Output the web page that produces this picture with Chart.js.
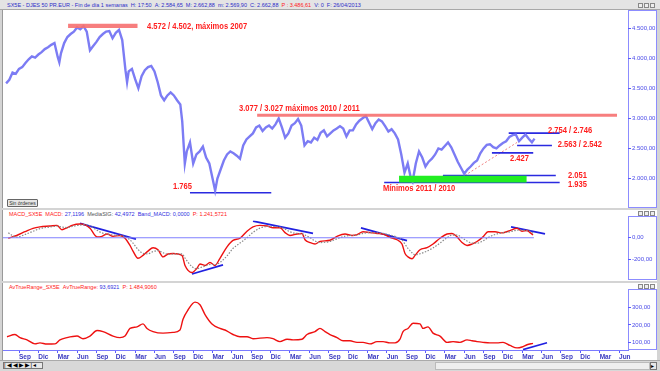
<!DOCTYPE html>
<html><head><meta charset="utf-8">
<script src="https://cdn.jsdelivr.net/npm/chart.js@4"></script>
<style>
body{margin:0;width:660px;height:371px;overflow:hidden;background:#d4d4d4;font-family:"Liberation Sans",Arial,sans-serif;position:relative}
div,canvas{position:absolute;box-sizing:border-box}
.hdr{font-size:5.5px;white-space:nowrap;line-height:6px}
.box{border:1px solid #8c8cff;background:#fff}
.btn{width:5px;height:5px;border:1px solid #888;background:#eee}
.r{color:#ff2020}.b{color:#3030e0}.g{color:#555}
</style></head><body>
<div style="left:0;top:0;width:660px;height:10px;background:#e4e4e4;border-bottom:1px solid #a8a8a8"></div>
<div class="hdr" style="left:7px;top:2px;color:#2d2dc8">SX5E - DJES 50 PR.EUR - Fin de día 1 semanas &nbsp;H: 17:50 &nbsp;A: 2.584,65 &nbsp;M: 2.662,88 &nbsp;m: 2.569,90 &nbsp;C: 2.662,88 &nbsp;<span class="r">P : 3.486,61</span> &nbsp;V: 0 &nbsp;F: 26/04/2013</div>
<div class="btn" style="left:638px;top:3px"></div><div class="btn" style="left:644px;top:3px"></div><div class="btn" style="left:650px;top:3px"></div>
<div style="left:2px;top:10px;width:626px;height:198px;background:#fff;border-left:1px solid #999"></div>
<div class="box" style="left:628px;top:10px;width:29px;height:198px"></div>

<div style="left:2px;top:210px;width:655px;height:71px;background:#fff;border-left:1px solid #999"></div>
<div class="box" style="left:628px;top:216px;width:29px;height:64px"></div>
<div class="btn" style="left:638px;top:211px"></div><div class="btn" style="left:644px;top:211px"></div><div class="btn" style="left:650px;top:211px"></div>
<div class="hdr" style="left:9px;top:211px"><span class="r">MACD_SX5E &nbsp;MACD:</span> <span class="b">27,1196</span> &nbsp;<span class="g">MediaSIG:</span> <span class="b">42,4972 &nbsp;Band_MACD: 0,0000</span> &nbsp;<span class="r">P: 1.241,5721</span></div>

<div style="left:2px;top:283px;width:655px;height:77px;background:#fff;border-left:1px solid #999"></div>
<div class="box" style="left:628px;top:289px;width:29px;height:61px"></div>
<div class="btn" style="left:638px;top:284px"></div><div class="btn" style="left:644px;top:284px"></div><div class="btn" style="left:650px;top:284px"></div>
<div class="hdr" style="left:9px;top:284px"><span class="r">AvTrueRange_SX5E &nbsp;AvTrueRange:</span> <span class="b">93,6921</span> &nbsp;<span class="r">P: 1.484,9060</span></div>

<div style="left:0;top:360px;width:660px;height:11px;background:#d8d8d8;border-top:1px solid #aaa"></div>
<div style="left:3px;top:362px;width:40px;height:7px;background:#e8e8e8;border:1px solid #777;font-size:6px;line-height:5px;letter-spacing:1px;color:#000;white-space:nowrap;overflow:hidden">|◀◀▶▶|◂</div>
<div style="left:435px;top:362px;width:215px;height:8px;background:#eeeeee;border:1px solid #bbb"></div>
<div style="left:650px;top:362px;width:7px;height:8px;background:#e8e8e8;border:1px solid #777;font-size:6px;line-height:6px">▸</div>
<div style="left:7px;top:199px;width:31px;height:8px;background:#e6e6e6;border:1px solid #666;border-radius:1px;font-size:5px;line-height:6px;text-align:center;color:#333;white-space:nowrap;overflow:hidden">Sin órdenes</div>

<canvas id="c1" width="653" height="196" style="left:3px;top:11px;width:653px;height:196px"></canvas>
<canvas id="c2" width="653" height="64" style="left:3px;top:216px;width:653px;height:64px"></canvas>
<canvas id="c3" width="653" height="71" style="left:3px;top:289px;width:653px;height:71px"></canvas>
<script>
// x values are months counted from 1 Jan 2006
const X_MIN = 5.52, X_MAX = 102.39;
const monthNames = ['Mar','Jun','Sep','Dic'];

const priceMonths = [6.0,6.5,7.0,7.5,8.0,8.5,9.0,9.5,10.0,10.5,11.0,11.5,12.0,12.5,13.0,13.5,14.0,14.25,14.5,15.0,15.5,16.0,16.5,17.0,17.5,18.0,18.5,19.0,19.5,20.0,20.5,21.0,21.5,22.0,22.5,23.0,23.5,24.0,24.5,24.75,25.0,25.5,26.0,26.5,27.0,27.5,28.0,28.5,29.0,29.5,30.0,30.5,31.0,31.5,32.0,32.5,33.0,33.3,33.7,34.0,34.5,35.0,35.5,36.0,36.5,37.0,37.5,38.0,38.4,38.75,39.25,39.75,40.25,40.75,41.25,41.75,42.25,42.75,43.25,43.75,44.25,44.75,45.25,45.75,46.25,46.75,47.25,47.75,48.25,48.75,49.25,49.75,50.25,50.75,51.25,51.75,52.25,52.75,53.25,53.75,54.25,54.75,55.25,55.75,56.25,56.75,57.25,57.75,58.25,58.75,59.25,59.75,60.25,60.75,61.25,61.75,62.25,62.75,63.25,63.75,64.25,64.75,65.25,65.75,66.25,66.75,67.25,67.75,68.25,68.75,69.0,69.5,70.0,70.5,71.0,71.5,72.0,72.5,73.0,73.5,74.0,74.5,75.0,75.5,76.0,76.5,77.0,77.5,78.0,78.5,79.0,79.5,80.0,80.5,81.0,81.5,82.0,82.5,83.0,83.5,84.0,84.5,85.0,85.5,86.0,86.5,87.0,87.5,87.9];
const priceValues = [3580,3640,3760,3740,3820,3850,3920,3980,4030,4010,4060,4100,4150,4180,4220,4250,4020,3930,4080,4250,4350,4400,4440,4510,4480,4530,4440,4130,4200,4270,4350,4400,4440,4450,4330,4420,4470,4300,3800,3600,3780,3820,3650,3500,3700,3800,3850,3870,3780,3600,3380,3300,3380,3430,3380,3300,3230,2950,2250,2450,2600,2250,2400,2450,2530,2350,2250,2000,1800,2000,2150,2300,2400,2450,2420,2380,2330,2550,2650,2700,2750,2850,2880,2790,2850,2880,2830,2900,3000,2850,2680,2750,2880,2920,2990,2880,2550,2620,2600,2680,2640,2760,2800,2700,2750,2800,2830,2870,2830,2700,2800,2800,2900,2960,3000,3040,2930,2820,2920,2980,2950,2870,2780,2820,2750,2650,2400,2100,2250,2000,1950,2250,2450,2350,2200,2280,2330,2400,2500,2480,2540,2600,2520,2400,2280,2180,2080,2150,2200,2260,2300,2420,2500,2560,2570,2520,2500,2550,2590,2620,2690,2720,2730,2620,2680,2730,2660,2600,2662];

const priceTicks = [2000,2500,3000,3500,4000,4500];
// shaded zones: [from month, to month, low value, high value]
const redZones = [[15.6,26.4,4502,4572],[44.9,100.7,3027,3077]];
const greenZones = [[66.9,86.7,1935,2045]];
// horizontal support / resistance lines: [from month, to month, value]
const blueLines = [[34.5,47.1,1765],[73.7,91.2,2051],[64.6,91.8,1935],[83.9,91.8,2754],[85.2,90.6,2550],[81.3,87.7,2427]];
const dottedTrend = [[77.1,2051],[85.2,2600]];
const noteText = ['4.572 / 4.502, máximos 2007','3.077 / 3.027 máximos 2010 / 2011','1.765','Mínimos 2011 / 2010','2.051','1.935','2.754 / 2.746','2.563 / 2.542','2.427'];
const noteMonth = [27.84,42.1,31.87,64.4,93.1,93.1,90.0,91.5,84.1];
const noteValue = [4516,3163,1873,1826,2047,1905,2800,2570,2324];

const macdMonths = [6.34,7.64,8.93,10.17,11.25,12.80,13.89,14.66,15.44,16.21,17.45,18.23,19.00,20.09,20.86,21.64,22.57,23.65,24.43,25.20,25.67,26.44,27.22,27.99,28.77,29.54,30.32,31.09,31.87,33.26,33.73,34.81,35.59,36.05,36.83,37.60,38.38,39.15,40.24,41.17,42.25,43.34,44.27,45.35,46.44,47.37,48.45,49.23,50.00,51.09,51.86,52.33,53.10,53.88,54.65,56.20,57.29,58.53,59.61,60.39,61.32,62.40,63.49,64.42,65.50,66.59,67.36,67.83,68.29,68.91,69.38,70.15,71.24,72.17,73.25,74.34,75.11,75.89,76.66,77.44,78.21,78.99,79.92,80.69,81.78,82.86,84.10,85.19,85.96,86.74,87.20,87.67];
const macdValues = [-5,21,56,88,101,109,115,75,93,115,128,120,88,8,13,35,13,21,-5,-72,-125,-192,-165,-125,-93,-112,-179,-152,-147,-165,-259,-325,-285,-245,-259,-232,-259,-192,-85,-24,-5,61,101,115,109,93,93,48,21,35,40,-19,-45,-59,-35,-24,13,35,21,29,56,48,40,35,3,-19,-59,-147,-179,-197,-165,-112,-93,-59,-5,35,40,8,-45,-72,-59,-35,8,56,56,45,67,88,61,67,48,27];
const signalValues = [45,5,30,60,85,100,108,100,95,105,118,122,110,70,45,35,25,20,10,-20,-50,-110,-145,-150,-130,-120,-140,-155,-152,-150,-190,-270,-290,-280,-265,-250,-250,-230,-170,-100,-50,0,50,90,105,105,98,80,55,40,38,25,0,-30,-45,-35,-10,15,22,25,40,48,45,40,25,5,-20,-60,-100,-140,-160,-150,-125,-95,-50,0,25,25,0,-30,-50,-50,-30,0,30,45,55,70,70,65,60,42];
const macdZeroLine = [[5.52,0],[87.8,0]];
const macdTrends = [[17.45,133,26.13,-13],[34.81,-339,39.62,-253],[44.27,155,53.57,40],[61.0,93,68.14,-27],[84.26,101,89.53,35]];
const macdTicks = [-200,0];

const atrMonths = [6.14,7.38,8.15,9.24,10.48,11.25,12.34,13.58,14.35,15.44,16.99,17.92,19.00,20.09,21.02,22.57,23.65,24.43,25.20,26.29,27.22,27.84,28.77,30.32,31.87,32.95,33.42,34.19,35.28,36.05,36.83,37.91,39.15,39.93,41.17,42.25,43.34,44.27,46.44,47.37,48.45,49.54,50.47,51.86,52.64,53.88,54.65,55.43,56.20,57.29,58.22,59.30,60.39,61.32,62.40,63.49,64.42,65.50,66.28,67.05,67.52,68.29,69.07,70.15,70.62,71.39,72.17,73.25,74.34,75.27,76.35,77.44,78.21,78.99,79.92,81.00,82.09,83.02,84.10,85.19,85.96,86.74,87.67];
const atrValues = [132,145,127,114,91,97,90,91,114,127,136,121,136,168,162,136,127,136,180,189,206,180,162,153,157,171,233,286,331,316,260,206,180,171,145,132,132,121,127,121,104,118,114,118,145,162,180,162,145,127,109,109,100,100,91,104,104,97,97,118,162,180,210,206,180,189,153,136,100,104,100,114,109,104,100,97,97,100,82,68,73,86,94];
const atrTrend = [[86.12,58],[89.84,97]];
const atrTicks = [100,200,300];

function esNum(v){
  const neg = v<0; v=Math.abs(v);
  const s = Math.round(v).toString().replace(/\B(?=(\d{3})+(?!\d))/g,'.');
  return (neg?'-':'')+s+',00';
}
const pairs = (xs, ys) => xs.map((x,i)=>({x, y: ys[i]}));
const yAxis = (min,max,ticks) => ({
  position:'right', min, max,
  afterBuildTicks: s => { s.ticks = ticks.map(v=>({value:v})); },
  afterFit: s => { s.width = 28; },
  border:{display:false},
  grid:{drawOnChartArea:false, drawTicks:true, tickLength:3, color:'#5a5aff', lineWidth:1},
  ticks:{padding:1, font:{size:6, family:'Liberation Sans'}, color:'#4a4ae8', callback:v=>esNum(v)}
});
const hiddenX = {type:'linear', min:X_MIN, max:X_MAX, display:false};
const base = {
  responsive:false, animation:false, events:[],
  layout:{padding:0},
  plugins:{legend:{display:false}, tooltip:{enabled:false}},
  elements:{point:{radius:0}, line:{tension:0}}
};
Chart.defaults.font.family = 'Liberation Sans';

const notesPlugin = {
  id:'notes',
  afterDatasetsDraw(chart){
    const {ctx, scales:{x,y}} = chart;
    ctx.save();
    ctx.font = 'bold 8.5px "Liberation Sans", Arial';
    ctx.fillStyle = '#ff1e1e';
    ctx.textBaseline = 'middle'; ctx.textAlign = 'left';
    noteText.forEach((t,i)=> {
      ctx.save();
      ctx.translate(x.getPixelForValue(noteMonth[i]), y.getPixelForValue(noteValue[i]));
      ctx.scale(0.89, 1);
      ctx.fillText(t, 0, 0);
      ctx.restore();
    });
    ctx.restore();
  }
};

const priceSets = [];
redZones.forEach(z => priceSets.push({data:[{x:z[0],y:z[3]},{x:z[1],y:z[3]}], borderWidth:0, backgroundColor:'rgba(246,112,112,0.9)', fill:{value:z[2]}}));
greenZones.forEach(z => priceSets.push({data:[{x:z[0],y:z[3]},{x:z[1],y:z[3]}], borderWidth:0, backgroundColor:'#22ee22', fill:{value:z[2]}}));
priceSets.push({data:pairs(priceMonths, priceValues), borderColor:'#7c7cf4', borderWidth:2.4, fill:false, borderJoinStyle:'miter'});
blueLines.forEach(l => priceSets.push({data:[{x:l[0],y:l[2]},{x:l[1],y:l[2]}], borderColor:'#2a2ae0', borderWidth:1.6, fill:false}));
priceSets.push({data:dottedTrend.map(p=>({x:p[0],y:p[1]})), borderColor:'#f08080', borderWidth:1, borderDash:[2,2], fill:false});

new Chart(document.getElementById('c1'), {
  type:'line',
  data:{datasets:priceSets},
  options:{...base, scales:{x:hiddenX, y:yAxis(1604,4706,priceTicks)}},
  plugins:[notesPlugin]
});

const macdSets = [
  {data:macdZeroLine.map(p=>({x:p[0],y:p[1]})), borderColor:'#8080ff', borderWidth:1.2},
  {data:pairs(macdMonths, signalValues), borderColor:'#8a8a8a', borderWidth:1.2, borderDash:[1.5,1.5], cubicInterpolationMode:'monotone'},
  {data:pairs(macdMonths, macdValues), borderColor:'#ee1111', borderWidth:1.4, cubicInterpolationMode:'monotone'}
];
macdTrends.forEach(t => macdSets.push({data:[{x:t[0],y:t[1]},{x:t[2],y:t[3]}], borderColor:'#2020e0', borderWidth:1.8}));
new Chart(document.getElementById('c2'), {
  type:'line',
  data:{datasets:macdSets},
  options:{...base, scales:{x:hiddenX, y:yAxis(-352,160,macdTicks)}}
});

new Chart(document.getElementById('c3'), {
  type:'line',
  data:{datasets:[
    {data:pairs(atrMonths, atrValues), borderColor:'#ee1111', borderWidth:1.4, cubicInterpolationMode:'monotone'},
    {data:atrTrend.map(p=>({x:p[0],y:p[1]})), borderColor:'#2020e0', borderWidth:1.6}
  ]},
  options:{...base, scales:{
    x:{type:'linear', min:X_MIN, max:X_MAX, position:'bottom',
       afterBuildTicks: s => { const t=[]; for(let m=2;m<=101;m+=3){ if(m>=s.min && m<=s.max) t.push({value:m}); } s.ticks=t; },
       afterFit: s => { s.height = 10; s.paddingLeft = 0; s.paddingRight = 0; },
       border:{display:true, color:'#7a7aff', width:1},
       grid:{drawOnChartArea:false, drawTicks:true, tickLength:3, color:'#5a5aff'},
       ticks:{autoSkip:false, maxRotation:0, minRotation:0, align:'start', padding:0, font:{size:6.5, weight:'bold'}, color:'#3a3ac0',
              callback:v => monthNames[((v-2)/3)%4]}},
    y:yAxis(55.9,380.3,atrTicks)
  }}
});
</script>
</body></html>
